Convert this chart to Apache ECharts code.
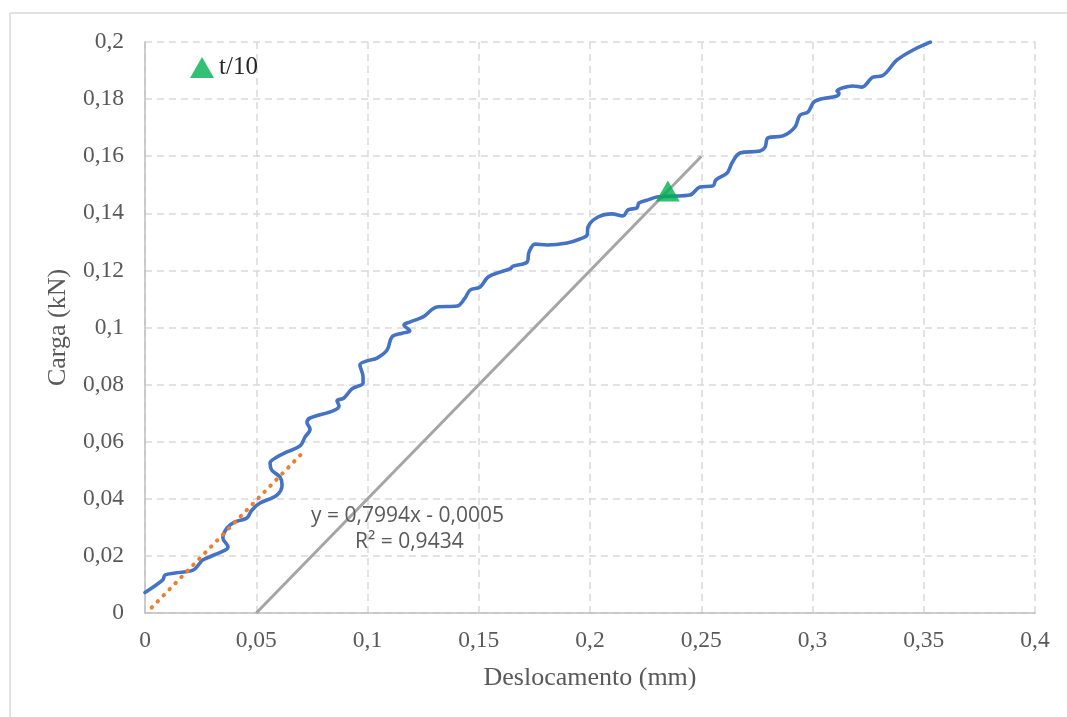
<!DOCTYPE html>
<html>
<head>
<meta charset="utf-8">
<script src="https://cdn.jsdelivr.net/npm/echarts@6/dist/echarts.min.js"></script>
<style>
  html, body { margin: 0; padding: 0; background: #ffffff; }
  #chart { width: 1067px; height: 717px; }
</style>
</head>
<body>
<div id="chart"></div>
<script>
// Load–displacement curve (displacement in mm, load in kN)
const curveDispl = [
  0, 0.008, 0.009, 0.0135, 0.0216, 0.0247, 0.026, 0.036, 0.0373, 0.035, 0.0369, 0.0404,
  0.0458, 0.048, 0.0517, 0.0593, 0.0616, 0.0607, 0.057, 0.0562, 0.0593, 0.0638, 0.0697,
  0.0719, 0.0742, 0.0728, 0.0742, 0.0845, 0.0872, 0.0863, 0.0894, 0.093, 0.098, 0.098,
  0.0966, 0.0998, 0.1043, 0.1088, 0.111, 0.1155, 0.119, 0.1164, 0.119, 0.125, 0.1312,
  0.1402, 0.1438, 0.1461, 0.1506, 0.1542, 0.1596, 0.164, 0.1654, 0.1717, 0.1726, 0.1753,
  0.1807, 0.1897, 0.1955, 0.1987, 0.1991, 0.2036, 0.2099, 0.2148, 0.2171, 0.2211, 0.222,
  0.2261, 0.2301, 0.2369, 0.2449, 0.2494, 0.2553, 0.2566, 0.2616, 0.2638, 0.2674, 0.2764,
  0.2787, 0.28, 0.2867, 0.2921, 0.2944, 0.298, 0.3011, 0.311, 0.3119, 0.311, 0.3182,
  0.3222, 0.3272, 0.3312, 0.338, 0.3452, 0.3519, 0.353
];
const curveLoad = [
  0.0072, 0.0116, 0.0133, 0.014, 0.015, 0.0175, 0.0186, 0.022, 0.0231, 0.0263, 0.0298, 0.0319,
  0.0333, 0.036, 0.0385, 0.0413, 0.0448, 0.0476, 0.05, 0.0525, 0.0546, 0.0564, 0.0585,
  0.0616, 0.0644, 0.0667, 0.0683, 0.0708, 0.0725, 0.0743, 0.0753, 0.0785, 0.0806, 0.0827,
  0.0869, 0.0883, 0.0893, 0.0921, 0.0967, 0.098, 0.0988, 0.1009, 0.1019, 0.1037, 0.1072,
  0.1075, 0.1103, 0.1131, 0.1142, 0.1177, 0.1194, 0.1205, 0.1215, 0.1229, 0.1264, 0.1292,
  0.1289, 0.1296, 0.131, 0.1324, 0.1352, 0.1387, 0.1398, 0.1391, 0.1412, 0.1419, 0.1436,
  0.1447, 0.1457, 0.146, 0.1464, 0.1492, 0.1496, 0.1517, 0.1541, 0.1576, 0.1611, 0.1618,
  0.1632, 0.1664, 0.1671, 0.1702, 0.1744, 0.1755, 0.1793, 0.1811, 0.1821, 0.1828, 0.1846,
  0.1842, 0.1877, 0.1881, 0.1937, 0.1972, 0.1996, 0.2
];

// Linear fit of the initial stretch
const fitSlope = 0.7994;
const fitIntercept = -0.0005;
const fitRange = [0.003, 0.072];
const fitR2 = 0.9434;

// Fit line shifted by the offset displacement
const offsetDispl = 0.05;
const offsetEnd = 0.25;

// Marked point t/10
const markDispl = [0.235];
const markLoad = [0.1478];

// Axis ranges and steps
const xRange = [0, 0.4], xStep = 0.05;
const yRange = [0, 0.2], yStep = 0.02;

const fmt = v => String(+v.toFixed(3)).replace('.', ',');
const dec = v => String(v).replace('.', ',');

const curveData = curveDispl.map((x, i) => [x, curveLoad[i]]);
const fitData = fitRange.map(x => [x, fitSlope * x + fitIntercept]);
const offsetData = [offsetDispl, offsetEnd].map(x => [x, fitSlope * (x - offsetDispl)]);
const markData = markDispl.map((x, i) => [x, markLoad[i]]);

const serif = '"Liberation Serif", "Times New Roman", serif';
const gridLine = { show: true, lineStyle: { color: '#d9d9d9', width: 1.5, type: [7, 5] } };

const chart = echarts.init(document.getElementById('chart'));
chart.setOption({
  animation: false,
  backgroundColor: '#ffffff',
  grid: { left: 145, right: 32, top: 42, bottom: 104 },
  legend: {
    data: ['t/10'],
    left: 185, top: 50,
    itemWidth: 24, itemHeight: 21, itemGap: 8,
    textStyle: { fontFamily: serif, fontSize: 25, color: '#262626' }
  },
  xAxis: {
    type: 'value', min: xRange[0], max: xRange[1], interval: xStep,
    name: 'Deslocamento (mm)', nameLocation: 'middle', nameGap: 52,
    nameTextStyle: { fontFamily: serif, fontSize: 26, color: '#595959' },
    axisLine: { show: true, onZero: false, lineStyle: { color: '#bfbfbf', width: 1.5 } },
    axisTick: { show: false },
    axisLabel: { formatter: fmt, fontFamily: serif, fontSize: 23.5, color: '#595959', margin: 16 },
    splitLine: gridLine
  },
  yAxis: {
    type: 'value', min: yRange[0], max: yRange[1], interval: yStep,
    name: 'Carga (kN)', nameLocation: 'middle', nameGap: 74,
    nameTextStyle: { fontFamily: serif, fontSize: 26, color: '#595959' },
    axisLine: { show: true, onZero: false, lineStyle: { color: '#bfbfbf', width: 1.5 } },
    axisTick: { show: false },
    axisLabel: { formatter: fmt, fontFamily: serif, fontSize: 23.5, color: '#595959', margin: 21 },
    splitLine: gridLine
  },
  graphic: [
    { type: 'line', shape: { x1: 10, y1: 13, x2: 1067, y2: 13 }, style: { stroke: '#d9d9d9', lineWidth: 1.5 } },
    { type: 'line', shape: { x1: 10, y1: 13, x2: 10, y2: 717 }, style: { stroke: '#d9d9d9', lineWidth: 1.5 } },
    {
      type: 'text', left: 311, top: 506, z: 10,
      style: {
        text: 'y = ' + dec(fitSlope) + 'x - ' + dec(Math.abs(fitIntercept)),
        font: '21px "Open Sans", "Noto Sans", sans-serif', fill: '#595959'
      }
    },
    {
      type: 'text', left: 355, top: 532, z: 10,
      style: {
        text: 'R² = ' + dec(fitR2),
        font: '21px "Open Sans", "Noto Sans", sans-serif', fill: '#595959'
      }
    }
  ],
  series: [
    {
      name: 'offset', type: 'line', data: offsetData, symbol: 'none', silent: true,
      lineStyle: { color: '#a5a5a5', width: 3 }, z: 2
    },
    {
      name: 'curve', type: 'line', data: curveData, symbol: 'none', smooth: 0.35,
      lineStyle: { color: '#4472c4', width: 3.6, cap: 'round', join: 'round' }, z: 3
    },
    {
      name: 'fit', type: 'line', data: fitData, symbol: 'none',
      lineStyle: { color: '#ed7d31', width: 4, type: [0.5, 8], cap: 'round' }, z: 4
    },
    {
      name: 't/10', type: 'scatter', data: markData, symbol: 'triangle', symbolSize: [24, 21],
      itemStyle: { color: '#00b050' }, z: 5
    }
  ]
});
</script>
</body>
</html>
